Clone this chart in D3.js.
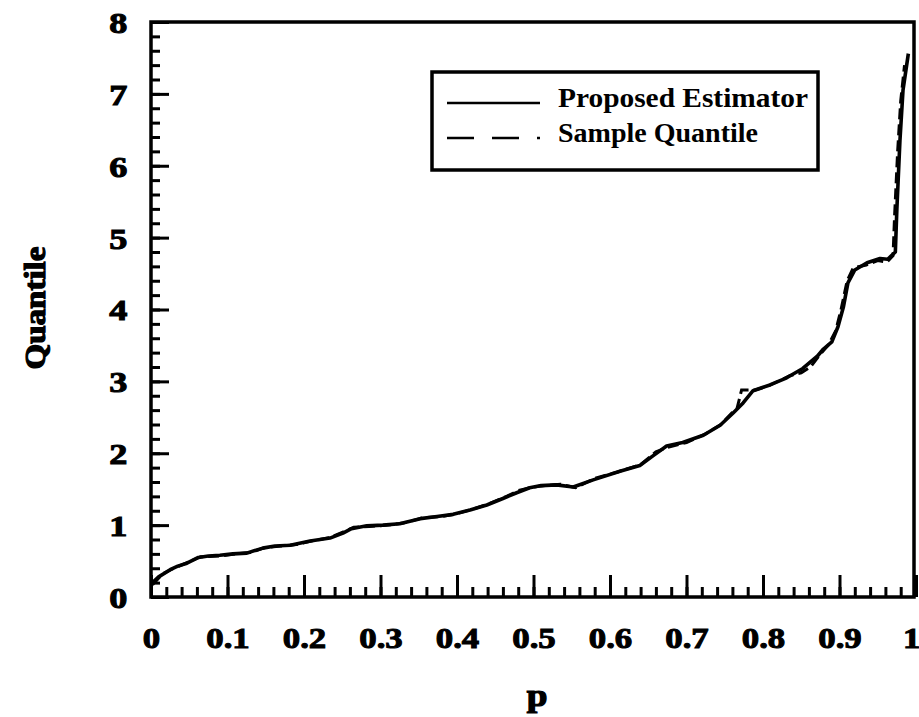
<!DOCTYPE html>
<html>
<head>
<meta charset="utf-8">
<script src="https://cdn.jsdelivr.net/npm/d3@7"></script>
<style>
  body { margin: 0; background: #fff; }
  text { font-family: "Liberation Serif", "Times New Roman", serif; font-weight: bold; fill: #000; }
</style>
</head>
<body>
<div id="chart"></div>
<script>
// estimator curve (p, quantile)
var estP = [0.002, 0.01, 0.025, 0.035, 0.047, 0.062, 0.075, 0.09, 0.107, 0.125, 0.146, 0.162, 0.182, 0.208, 0.234,
  0.251, 0.262, 0.282, 0.303, 0.325, 0.352, 0.374, 0.395, 0.417, 0.439, 0.46, 0.478, 0.495, 0.51, 0.53, 0.552,
  0.578, 0.613, 0.639, 0.657, 0.674, 0.695, 0.722, 0.744, 0.761, 0.774, 0.787, 0.809, 0.831, 0.852, 0.871, 0.879,
  0.89, 0.898, 0.905, 0.911, 0.92, 0.936, 0.953, 0.963, 0.973, 0.975, 0.979, 0.983, 0.99];
var estQ = [0.20, 0.28, 0.38, 0.43, 0.47, 0.55, 0.57, 0.58, 0.60, 0.61, 0.68, 0.71, 0.72, 0.78, 0.82,
  0.89, 0.95, 0.99, 1.00, 1.02, 1.09, 1.12, 1.15, 1.21, 1.28, 1.37, 1.45, 1.52, 1.55, 1.56, 1.53,
  1.63, 1.75, 1.83, 1.97, 2.10, 2.15, 2.25, 2.39, 2.56, 2.70, 2.87, 2.95, 3.05, 3.18, 3.35, 3.45,
  3.55, 3.76, 4.03, 4.37, 4.55, 4.65, 4.71, 4.70, 4.80, 5.40, 6.35, 7.05, 7.56];

// sample quantile (dashed)
var sampP = [0.002, 0.015, 0.03, 0.05, 0.065, 0.09, 0.11, 0.13, 0.15, 0.17, 0.19, 0.21, 0.235, 0.25, 0.265,
  0.285, 0.31, 0.33, 0.355, 0.38, 0.40, 0.42, 0.44, 0.465, 0.48, 0.50, 0.515, 0.535, 0.555, 0.58, 0.61,
  0.64, 0.66, 0.675, 0.70, 0.725, 0.745, 0.76, 0.766, 0.772, 0.79, 0.81, 0.835, 0.85, 0.862, 0.875, 0.885,
  0.895, 0.902, 0.91, 0.918, 0.935, 0.95, 0.962, 0.97, 0.972, 0.976, 0.98, 0.985];
var sampQ = [0.17, 0.32, 0.40, 0.49, 0.56, 0.57, 0.60, 0.62, 0.69, 0.71, 0.73, 0.78, 0.83, 0.90, 0.97,
  0.98, 1.00, 1.03, 1.10, 1.12, 1.16, 1.22, 1.29, 1.40, 1.48, 1.53, 1.55, 1.57, 1.52, 1.65, 1.74,
  1.84, 2.02, 2.08, 2.15, 2.27, 2.40, 2.57, 2.62, 2.88, 2.88, 2.95, 3.08, 3.12, 3.20, 3.38, 3.50,
  3.70, 4.00, 4.40, 4.58, 4.62, 4.68, 4.66, 4.75, 5.30, 6.20, 6.90, 7.40];

var xTicks = [0, 0.1, 0.2, 0.3, 0.4, 0.5, 0.6, 0.7, 0.8, 0.9, 1];
var xTickLabels = ["0", "0.1", "0.2", "0.3", "0.4", "0.5", "0.6", "0.7", "0.8", "0.9", "1"];
var yTicks = [0, 1, 2, 3, 4, 5, 6, 7, 8];
var yTickLabels = ["0", "1", "2", "3", "4", "5", "6", "7", "8"];
var legendLabels = ["Proposed Estimator", "Sample Quantile"];

var W = 919, H = 717;
var svg = d3.select("#chart").append("svg")
  .attr("width", W).attr("height", H);

var x = d3.scaleLinear().domain([0, 1]).range([151, 916]);
var y = d3.scaleLinear().domain([0, 8]).range([597, 22]);

// frame
svg.append("rect")
  .attr("x", x(0)).attr("y", y(8))
  .attr("width", x(1) - x(0) - 2).attr("height", y(0) - y(8))
  .attr("fill", "none").attr("stroke", "#000").attr("stroke-width", 3.5);

// minor ticks
svg.append("g").attr("transform", "translate(0," + y(0) + ")")
  .call(d3.axisBottom(x).tickValues(d3.range(0, 50).map(function(i) { return i * 0.02; }))
    .tickSizeInner(-10).tickSizeOuter(0).tickFormat(""))
  .call(function(g) { g.select(".domain").remove(); })
  .selectAll("line").attr("stroke-width", 3);
svg.append("g").attr("transform", "translate(" + x(0) + ",0)")
  .call(d3.axisLeft(y).tickValues(d3.range(0, 40).map(function(i) { return i * 0.2; }))
    .tickSizeInner(-9).tickSizeOuter(0).tickFormat(""))
  .call(function(g) { g.select(".domain").remove(); })
  .selectAll("line").attr("stroke-width", 3);

// major ticks + labels
var xAxis = svg.append("g").attr("transform", "translate(0," + y(0) + ")")
  .call(d3.axisBottom(x).tickValues(xTicks).tickSizeInner(-22).tickSizeOuter(0).tickPadding(30)
    .tickFormat(function(d, i) { return xTickLabels[i]; }));
xAxis.select(".domain").remove();
xAxis.selectAll("line").attr("stroke-width", 3);
xAxis.selectAll("text").attr("font-size", 29).attr("font-family", null)
  .attr("stroke", "#000").attr("stroke-width", 1)
  .attr("transform", "scale(1.2,1)")
  .attr("x", function(d, i) { return i === xTicks.length - 1 ? -4 : 0; });

var yAxis = svg.append("g").attr("transform", "translate(" + x(0) + ",0)")
  .call(d3.axisLeft(y).tickValues(yTicks).tickSizeInner(-18).tickSizeOuter(0).tickPadding(19)
    .tickFormat(function(d, i) { return yTickLabels[i]; }));
yAxis.select(".domain").remove();
yAxis.selectAll("line").attr("stroke-width", 3);
yAxis.selectAll("text").attr("font-size", 29).attr("font-family", null)
  .attr("stroke", "#000").attr("stroke-width", 1)
  .attr("transform", "scale(1.25,1)").attr("dy", "0.36em");

// curves
var line = d3.line().curve(d3.curveLinear);
svg.append("path")
  .attr("d", line(sampP.map(function(p, i) { return [x(p), y(sampQ[i])]; })))
  .attr("fill", "none").attr("stroke", "#000").attr("stroke-width", 3)
  .attr("stroke-dasharray", "11,5");
svg.append("path")
  .attr("d", line(estP.map(function(p, i) { return [x(p), y(estQ[i])]; })))
  .attr("fill", "none").attr("stroke", "#000").attr("stroke-width", 3.6)
  .attr("stroke-linejoin", "round");

// axis titles
svg.append("text").attr("transform", "translate(45,308) rotate(-90) scale(1.1,1)")
  .attr("text-anchor", "middle").attr("font-size", 30)
  .attr("stroke", "#000").attr("stroke-width", 1.2).text("Quantile");
svg.append("text").attr("transform", "translate(537,706) scale(1.2,1)")
  .attr("text-anchor", "middle").attr("font-size", 31)
  .attr("stroke", "#000").attr("stroke-width", 1.2).text("p");

// legend
var lg = svg.append("g");
lg.append("rect").attr("x", 432).attr("y", 72).attr("width", 386).attr("height", 98)
  .attr("fill", "#fff").attr("stroke", "#000").attr("stroke-width", 3.5);
var legendWidths = [250, 200];
legendLabels.forEach(function(lab, i) {
  var ly = 103 + i * 35;
  lg.append("line").attr("x1", 447).attr("x2", 540).attr("y1", ly).attr("y2", ly)
    .attr("stroke", "#000").attr("stroke-width", 2.5)
    .attr("stroke-dasharray", i === 1 ? "27,18" : null);
  lg.append("text").attr("x", 558).attr("y", ly + 4)
    .attr("font-size", 28)
    .attr("textLength", legendWidths[i]).attr("lengthAdjust", "spacingAndGlyphs")
    .text(lab);
});
</script>
</body>
</html>
